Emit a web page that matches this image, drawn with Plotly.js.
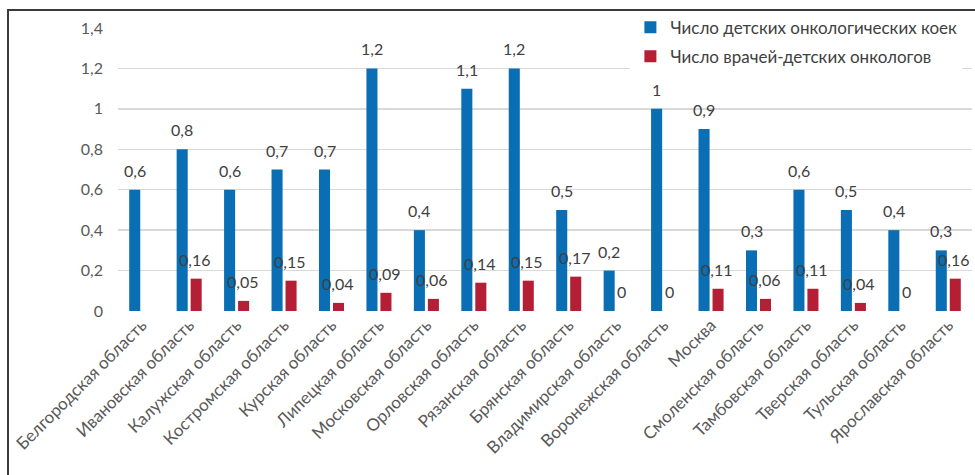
<!DOCTYPE html>
<html>
<head>
<meta charset="utf-8">
<script src="https://cdn.plot.ly/plotly-3.0.1.min.js"></script>
<style>
  html, body { margin: 0; padding: 0; background: #fff; }
  #wrap { position: relative; width: 975px; height: 475px; overflow: hidden; }
  #chart { position: absolute; left: 0; top: 0; width: 975px; height: 475px; }
  #frame { position: absolute; left: 7px; top: 9px; width: 980px; height: 480px;
           border: 2px solid #3a3a3a; box-sizing: border-box; pointer-events: none; }
</style>
</head>
<body>
<div id="wrap">
  <div id="chart"></div>
  <div id="frame"></div>
</div>
<script>
// Регионы ЦФО
const regions = [
  'Белгородская область', 'Ивановская область', 'Калужская область',
  'Костромская область', 'Курская область', 'Липецкая область',
  'Московская область', 'Орловская область', 'Рязанская область',
  'Брянская область', 'Владимирская область', 'Воронежская область',
  'Москва', 'Смоленская область', 'Тамбовская область',
  'Тверская область', 'Тульская область', 'Ярославская область'
];

// Число детских онкологических коек
const beds = [0.6, 0.8, 0.6, 0.7, 0.7, 1.2, 0.4, 1.1, 1.2, 0.5, 0.2, 1, 0.9, 0.3, 0.6, 0.5, 0.4, 0.3];

// Число врачей-детских онкологов
const doctors = [null, 0.16, 0.05, 0.15, 0.04, 0.09, 0.06, 0.14, 0.15, 0.17, 0, 0, 0.11, 0.06, 0.11, 0.04, 0, 0.16];

const seriesNames = ['Число детских онкологических коек', 'Число врачей-детских онкологов'];
const yTicks = [0, 0.2, 0.4, 0.6, 0.8, 1, 1.2, 1.4];

const fmt = v => (v === null ? '' : String(v).replace('.', ','));

const FONT = 'Lato, "Open Sans", sans-serif';
const BARGAP = 0.41;
const slot = (1 - BARGAP) / 2;   // width of one bar slot, in category units

const traces = [
  {
    type: 'bar', name: seriesNames[0], x: regions, y: beds,
    marker: { color: '#0a6eb4' }, legendgroup: 'a', hoverinfo: 'x+y'
  },
  {
    type: 'bar', name: seriesNames[1], x: regions, y: doctors,
    marker: { color: '#b41f35' }, legendgroup: 'b', hoverinfo: 'x+y'
  }
];

// Value labels sitting a little above each bar
function valueLabels(values, offset) {
  const out = [];
  values.forEach((v, i) => {
    if (v === null) return;
    out.push({
      xref: 'x', yref: 'y', x: i + offset, y: v,
      text: fmt(v), showarrow: false, yanchor: 'bottom', xanchor: 'center',
      yshift: 8, font: { family: FONT, size: 16, color: '#404040' }
    });
  });
  return out;
}

const annotations = valueLabels(beds, -slot / 2).concat(valueLabels(doctors, slot / 2 - 0.03));

const layout = {
  width: 975, height: 475,
  margin: { l: 118, r: 3, t: 28, b: 164 },
  paper_bgcolor: '#ffffff', plot_bgcolor: '#ffffff',
  separators: ', ',
  barmode: 'group', bargap: BARGAP, bargroupgap: 0.21,
  font: { family: FONT, color: '#595959' },
  showlegend: true,
  legend: {
    x: 0.6, y: 1.065, xanchor: 'left', yanchor: 'top',
    bgcolor: '#ffffff', font: { family: FONT, size: 17, color: '#404040' },
    traceorder: 'grouped', tracegroupgap: 4, itemwidth: 30
  },
  xaxis: {
    type: 'category', tickangle: -45, showgrid: false, showline: false,
    ticks: '', tickfont: { family: FONT, size: 17, color: '#595959' }, automargin: false
  },
  yaxis: {
    range: [0, 1.4], tickvals: yTicks, ticktext: yTicks.map(fmt),
    showgrid: true, gridcolor: '#d9d9d9', gridwidth: 1.5, zeroline: false,
    showline: false, ticks: '', ticklabelstandoff: 14,
    tickfont: { family: FONT, size: 16, color: '#595959' }, automargin: false
  },
  annotations: annotations
};

Plotly.newPlot('chart', traces, layout, { displayModeBar: false, staticPlot: true });
</script>
</body>
</html>
